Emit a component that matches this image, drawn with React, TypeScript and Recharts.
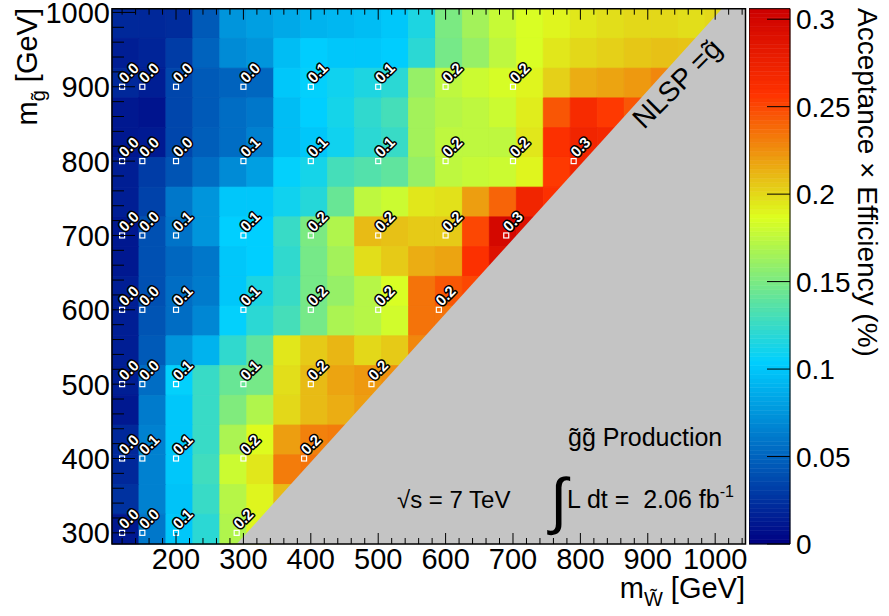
import React from 'react'
import { ComposedChart, XAxis, YAxis, ReferenceArea, Area, Scatter } from 'recharts'

const FONT = '"Liberation Sans", Arial, Helvetica, sans-serif'
const ZMAX = 0.306
const PLOT_TOP = 8.7

// 40 GeV cells: wino mass bin centres (x) and gluino mass bin centres (y, top to bottom)
const winoBins = [125, 165, 205, 245, 285, 325, 365, 405, 445, 485, 525, 565, 605, 645, 685, 725, 765, 805, 845, 885, 925, 965, 1005]
const gluinoBins = [985, 945, 905, 865, 825, 785, 745, 705, 665, 625, 585, 545, 505, 465, 425, 385, 345, 305]

// acceptance x efficiency, one row per gluino bin, left to right up to the diagonal
const eff985 = [0.02, 0.02, 0.022, 0.045, 0.075, 0.08, 0.085, 0.09, 0.092, 0.095, 0.1, 0.115, 0.15, 0.165, 0.178, 0.185, 0.19, 0.195, 0.198, 0.2, 0.2, 0.198, 0.2]
const eff945 = [0.015, 0.018, 0.03, 0.05, 0.07, 0.075, 0.095, 0.103, 0.1, 0.1, 0.103, 0.12, 0.148, 0.16, 0.175, 0.185, 0.195, 0.2, 0.203, 0.206, 0.208, 0.207]
const eff905 = [0.02, 0.015, 0.035, 0.045, 0.05, 0.052, 0.1, 0.105, 0.11, 0.115, 0.12, 0.16, 0.175, 0.18, 0.184, 0.19, 0.203, 0.215, 0.218, 0.222, 0.228]
const eff865 = [0.012, 0.01, 0.035, 0.045, 0.055, 0.06, 0.095, 0.104, 0.112, 0.122, 0.13, 0.165, 0.172, 0.175, 0.18, 0.193, 0.245, 0.265, 0.255, 0.245]
const eff825 = [0.012, 0.013, 0.035, 0.047, 0.055, 0.065, 0.095, 0.1, 0.11, 0.12, 0.125, 0.165, 0.175, 0.175, 0.175, 0.195, 0.26, 0.27, 0.268]
const eff785 = [0.015, 0.03, 0.042, 0.055, 0.07, 0.08, 0.105, 0.112, 0.13, 0.135, 0.14, 0.16, 0.175, 0.178, 0.18, 0.19, 0.255, 0.27]
const eff745 = [0.015, 0.033, 0.06, 0.075, 0.1, 0.1, 0.11, 0.118, 0.143, 0.175, 0.18, 0.195, 0.197, 0.22, 0.24, 0.27, 0.26]
const eff705 = [0.012, 0.04, 0.058, 0.075, 0.104, 0.104, 0.125, 0.15, 0.17, 0.21, 0.208, 0.205, 0.205, 0.25, 0.298, 0.29]
const eff665 = [0.012, 0.04, 0.052, 0.06, 0.1, 0.104, 0.122, 0.148, 0.165, 0.198, 0.205, 0.215, 0.218, 0.26, 0.29]
const eff625 = [0.015, 0.04, 0.055, 0.062, 0.1, 0.115, 0.125, 0.148, 0.16, 0.172, 0.185, 0.235, 0.245, 0.25]
const eff585 = [0.015, 0.042, 0.055, 0.068, 0.105, 0.12, 0.13, 0.148, 0.168, 0.172, 0.182, 0.235, 0.235]
const eff545 = [0.015, 0.045, 0.075, 0.09, 0.122, 0.14, 0.195, 0.205, 0.212, 0.2, 0.205, 0.228]
const eff505 = [0.015, 0.055, 0.105, 0.125, 0.143, 0.148, 0.198, 0.21, 0.218, 0.222, 0.225]
const eff465 = [0.012, 0.062, 0.1, 0.125, 0.152, 0.17, 0.2, 0.21, 0.215, 0.22]
const eff425 = [0.02, 0.065, 0.1, 0.125, 0.168, 0.188, 0.22, 0.23, 0.232]
const eff385 = [0.02, 0.065, 0.1, 0.128, 0.18, 0.195, 0.232, 0.235]
const eff345 = [0.025, 0.065, 0.098, 0.125, 0.172, 0.19, 0.21]
const eff305 = [0.012, 0.06, 0.1, 0.12, 0.17, 0.19]
const effRows = [eff985, eff945, eff905, eff865, eff825, eff785, eff745, eff705, eff665, eff625, eff585, eff545, eff505, eff465, eff425, eff385, eff345, eff305]

// generated signal points (wino mass) and their value, per gluino mass
const wino900 = [120, 150, 200, 300, 400, 500, 600, 700]
const eff900 = [0.02, 0.015, 0.035, 0.045, 0.104, 0.12, 0.18, 0.2]
const wino800 = [120, 150, 200, 300, 400, 500, 600, 700, 790]
const eff800 = [0.012, 0.013, 0.035, 0.06, 0.1, 0.125, 0.175, 0.19, 0.27]
const wino700 = [120, 150, 200, 300, 400, 500, 600, 690]
const eff700 = [0.012, 0.03, 0.058, 0.075, 0.155, 0.21, 0.205, 0.3]
const wino600 = [120, 150, 200, 300, 400, 500, 590]
const eff600 = [0.015, 0.03, 0.055, 0.1, 0.155, 0.18, 0.24]
const wino500 = [120, 150, 200, 300, 400, 490]
const eff500 = [0.015, 0.04, 0.07, 0.12, 0.2, 0.225]
const wino400 = [120, 150, 200, 300, 390]
const eff400 = [0.015, 0.065, 0.1, 0.19, 0.23]
const wino300 = [120, 150, 200, 290]
const eff300 = [0.012, 0.045, 0.1, 0.19]
const pointRows = [
  [900, wino900, eff900], [800, wino800, eff800], [700, wino700, eff700], [600, wino600, eff600],
  [500, wino500, eff500], [400, wino400, eff400], [300, wino300, eff300],
] as const

// kinematically forbidden region (gluino lighter than wino)
const forbiddenX = [290, 1010, 1045]
const forbiddenY = [285, 1005, 1005]

const xLabels = [200, 300, 400, 500, 600, 700, 800, 900, 1000]
const yLabels = [300, 400, 500, 600, 700, 800, 900, 1000]
const zTicks = [0, 0.05, 0.1, 0.15, 0.2, 0.25, 0.3]
const zLabels = ['0', '0.05', '0.1', '0.15', '0.2', '0.25', '0.3']

const xTicks: number[] = []
for (let m = 120; m <= 1040; m += 20) xTicks.push(m)
const yTicks: number[] = []
for (let m = 300; m <= 1000; m += 20) yTicks.push(m)

const STOPS = [0, 0.34, 0.61, 0.84, 1]
const RGB = [[0, 0, 130], [0, 207, 255], [221, 255, 31], [255, 51, 0], [204, 0, 0]]

function colour(v: number) {
  const f = Math.max(0, Math.min(1, v / ZMAX))
  let i = 0
  while (i < STOPS.length - 2 && f > STOPS[i + 1]) i++
  const t = (f - STOPS[i]) / (STOPS[i + 1] - STOPS[i])
  const c = RGB[i].map((a, n) => Math.round(a + (RGB[i + 1][n] - a) * t))
  return `rgb(${c[0]},${c[1]},${c[2]})`
}

const cells = effRows.flatMap((row, j) =>
  row.map((v, k) => ({ x1: winoBins[k] - 20, x2: winoBins[k] + 20, y1: gluinoBins[j] - 20, y2: gluinoBins[j] + 20, v }))
)
const points = pointRows.flatMap(([g, winos, effs]) => winos.map((w, i) => ({ x: w, y: g, v: effs[i] })))
const forbidden = forbiddenX.map((x, i) => ({ x, y: forbiddenY[i] }))

const zSteps = 120
const zStripes = Array.from({ length: zSteps }, (_, i) => i)

function XTick(props: any) {
  const { x, y, payload } = props
  const v = payload.value
  const len = v % 100 === 0 ? 11 : 6
  return (
    <g>
      <line x1={x} x2={x} y1={y} y2={y - len} stroke="#000" />
      <line x1={x} x2={x} y1={PLOT_TOP} y2={PLOT_TOP + len} stroke="#000" />
      {xLabels.includes(v) && (
        <text x={x} y={y + 25} textAnchor="middle" fontSize={29} fill="#000">{v}</text>
      )}
    </g>
  )
}

function YTick(props: any) {
  const { x, y, payload } = props
  const v = payload.value
  const len = v % 100 === 0 ? 23 : 12
  return (
    <g>
      <line x1={x} x2={x + len} y1={y} y2={y} stroke="#000" />
      {yLabels.includes(v) && (
        <text x={x - 2} y={y} dy="0.36em" textAnchor="end" fontSize={29} fill="#000">{v}</text>
      )}
    </g>
  )
}

function ZTick(props: any) {
  const { x, y, payload } = props
  const i = zTicks.indexOf(payload.value)
  return (
    <g>
      <line x1={x} x2={x - 23} y1={y} y2={y} stroke="#000" />
      <text x={x + 6} y={y} dy="0.36em" textAnchor="start" fontSize={28} fill="#000">{zLabels[i]}</text>
    </g>
  )
}

function PointMark(props: any) {
  const { cx, cy, payload } = props
  const tx = cx + 3
  const ty = cy - 3
  return (
    <g>
      <rect x={cx - 2.5} y={cy - 2.5} width={5} height={5} fill="none" stroke="#fff" strokeWidth={1.2} />
      <text
        x={tx}
        y={ty}
        transform={`rotate(-45 ${tx} ${ty})`}
        fontSize={15}
        fontWeight="bold"
        fill="#fff"
        stroke="#000"
        strokeWidth={3}
        strokeLinejoin="round"
        paintOrder="stroke"
      >
        {payload.v.toFixed(1)}
      </text>
    </g>
  )
}

export default function App() {
  return (
    <div style={{ position: 'absolute', left: 0, top: 0, width: 889, height: 616, background: '#fff', fontFamily: FONT }}>
      <div style={{ position: 'absolute', left: 0, top: 0 }}>
        <ComposedChart width={889} height={616} data={forbidden} margin={{ top: PLOT_TOP, right: 143.5, bottom: 0, left: 0 }}>
          <ReferenceArea x1={105} x2={1045} y1={285} y2={1005} fill="#c4c4c4" fillOpacity={1} stroke="none" zIndex={5} />
          {cells.map((c, i) => (
            <ReferenceArea
              key={i}
              x1={c.x1}
              x2={c.x2}
              y1={c.y1}
              y2={c.y2}
              fill={colour(c.v)}
              fillOpacity={1}
              stroke={colour(c.v)}
              strokeWidth={0.8}
              zIndex={20}
            />
          ))}
          <Area
            dataKey="y"
            type="linear"
            baseValue={285}
            fill="#c4c4c4"
            fillOpacity={1}
            stroke="none"
            dot={false}
            activeDot={false}
            isAnimationActive={false}
            zIndex={30}
          />
          <XAxis
            type="number"
            dataKey="x"
            domain={[105, 1045]}
            allowDataOverflow
            ticks={xTicks}
            interval={0}
            tickSize={0}
            tickMargin={0}
            tickLine={false}
            axisLine={false}
            height={72}
            tick={(p: any) => <XTick {...p} />}
          />
          <YAxis
            type="number"
            dataKey="y"
            domain={[285, 1005]}
            allowDataOverflow
            ticks={yTicks}
            interval={0}
            tickSize={0}
            tickMargin={0}
            tickLine={false}
            axisLine={false}
            width={112}
            tick={(p: any) => <YTick {...p} />}
          />
          <ReferenceArea x1={105} x2={1045} y1={285} y2={1005} fill="none" fillOpacity={0} stroke="#000" strokeWidth={1.5} ifOverflow="visible" zIndex={550} />
          <Scatter data={points} dataKey="y" isAnimationActive={false} shape={(p: any) => <PointMark {...p} />} zIndex={600} />
        </ComposedChart>
      </div>

      <div style={{ position: 'absolute', left: 749, top: 0 }}>
        <ComposedChart width={140} height={616} margin={{ top: PLOT_TOP, right: 0, bottom: 72, left: 0 }}>
          {zStripes.map((i) => (
            <ReferenceArea
              key={i}
              x1={0}
              x2={1}
              y1={(ZMAX * i) / zSteps}
              y2={(ZMAX * (i + 1)) / zSteps}
              fill={colour((ZMAX * (i + 0.5)) / zSteps)}
              fillOpacity={1}
              stroke={colour((ZMAX * (i + 0.5)) / zSteps)}
              strokeWidth={0.6}
              zIndex={20}
            />
          ))}
          <XAxis type="number" dataKey="x" domain={[0, 1]} hide />
          <YAxis
            type="number"
            dataKey="y"
            orientation="right"
            domain={[0, ZMAX]}
            allowDataOverflow
            ticks={zTicks}
            interval={0}
            tickSize={0}
            tickMargin={0}
            tickLine={false}
            axisLine={false}
            width={99}
            tick={(p: any) => <ZTick {...p} />}
          />
          <ReferenceArea x1={0} x2={1} y1={0} y2={ZMAX} fill="none" fillOpacity={0} stroke="#000" strokeWidth={1} ifOverflow="visible" zIndex={550} />
          <Scatter data={zTicks.map((v) => ({ x: 0.5, y: v }))} isAnimationActive={false} shape={() => <g />} />
        </ComposedChart>
      </div>

      <svg width={889} height={616} style={{ position: 'absolute', left: 0, top: 0, pointerEvents: 'none' }} fontFamily={FONT}>
        <text transform="translate(37, 8) rotate(-90)" textAnchor="end" fontSize={29} fill="#000">
          m<tspan fontSize={20} dy={8}>g&#x303;</tspan>
          <tspan dy={-8}>{'\u00a0[GeV]'}</tspan>
        </text>
        <text x={745} y={598} textAnchor="end" fontSize={29} fill="#000">
          m<tspan fontSize={20} dy={8}>W&#x303;</tspan>
          <tspan dy={-8}>{'\u00a0[GeV]'}</tspan>
        </text>
        <text transform="translate(858, 8) rotate(90)" fontSize={28} fill="#000">
          Acceptance × Efficiency (%)
        </text>
        <text transform="translate(644, 130) rotate(-45)" fontSize={28} fill="#000">
          {'NLSP =g\u0303'}
        </text>
        <text x={568} y={446} fontSize={25} fill="#000">{'g\u0303g\u0303 Production'}</text>
        <text x={397} y={508} fontSize={24} fill="#000">√s = 7 TeV</text>
        <text x={550} y={522} fontSize={62} fill="#000">∫</text>
        <text x={567} y={508} fontSize={25} fill="#000">
          {'L dt =\u00a0\u00a02.06 fb'}
          <tspan dy={-11} fontSize={16}>-1</tspan>
        </text>
      </svg>
    </div>
  )
}
